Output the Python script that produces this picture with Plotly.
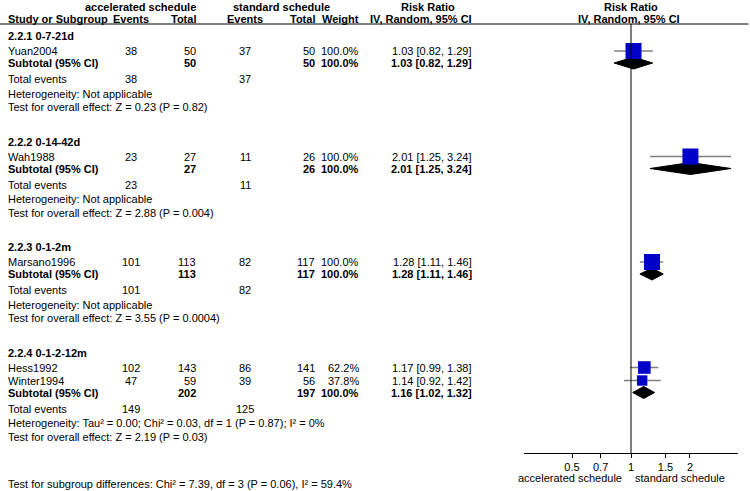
import plotly.graph_objects as go

# ------------------------------------------------------------------ #
# Data
groups = ["2.2.1 0-7-21d", "2.2.2 0-14-42d", "2.2.3 0-1-2m", "2.2.4 0-1-2-12m"]

studies = ["Yuan2004", "Wah1988", "Marsano1996", "Hess1992", "Winter1994"]
study_group = [0, 1, 2, 3, 3]
acc_events = [38, 23, 101, 102, 47]
acc_total = [50, 27, 113, 143, 59]
std_events = [37, 11, 82, 86, 39]
std_total = [50, 26, 117, 141, 56]
weights = [100.0, 100.0, 100.0, 62.2, 37.8]
rr = [1.03, 2.01, 1.28, 1.17, 1.14]
rr_lo = [0.82, 1.25, 1.11, 0.99, 0.92]
rr_hi = [1.29, 3.24, 1.46, 1.38, 1.42]

sub_acc_total = [50, 27, 113, 202]
sub_std_total = [50, 26, 117, 197]
sub_acc_events = [38, 23, 101, 149]
sub_std_events = [37, 11, 82, 125]
sub_rr = [1.03, 2.01, 1.28, 1.16]
sub_lo = [0.82, 1.25, 1.11, 1.02]
sub_hi = [1.29, 3.24, 1.46, 1.32]

heterogeneity = ["Heterogeneity: Not applicable",
                 "Heterogeneity: Not applicable",
                 "Heterogeneity: Not applicable",
                 "Heterogeneity: Tau² = 0.00; Chi² = 0.03, df = 1 (P = 0.87); I² = 0%"]
overall_effect = ["Test for overall effect: Z = 0.23 (P = 0.82)",
                  "Test for overall effect: Z = 2.88 (P = 0.004)",
                  "Test for overall effect: Z = 3.55 (P = 0.0004)",
                  "Test for overall effect: Z = 2.19 (P = 0.03)"]
subgroup_diff = "Test for subgroup differences: Chi² = 7.39, df = 3 (P = 0.06), I² = 59.4%"

tick_vals = [0.5, 0.7, 1, 1.5, 2]
tick_text = ["0.5", "0.7", "1", "1.5", "2"]
favours = ["accelerated schedule", "standard schedule"]

# ------------------------------------------------------------------ #
# Layout (pixels from the top-left of the page)
W, H = 750, 491
FONT = "Liberation Sans, Arial, sans-serif"
FS = 11
AXIS_Y = 453
HEAD_LINE_Y = 24

# column anchors (x)
X_LABEL = 6
X_EV1 = 131      # centre
X_TOT1 = 198     # right
X_EV2 = 245      # centre
X_TOT2 = 317     # right
X_WT = 361       # right
X_CI = 474       # right

# row steps
STEP = {"after_header": 15, "study": 13, "subtotal": 12, "total": 16,
        "het": 14.5, "test": 13.5, "gap": 34.5}

fig = go.Figure()
ann = []


def txt(x, y, s, anchor="left", bold=False):
    ann.append(dict(x=x / W, y=y, xref="paper", yref="y",
                    text=f"<b>{s}</b>" if bold else str(s),
                    showarrow=False, xanchor=anchor, yanchor="middle",
                    font=dict(family=FONT, size=FS, color="black")))


def diamond(y, lo, mid, hi, half=6):
    fig.add_trace(go.Scatter(x=[lo, mid, hi, mid, lo], y=[y, y - half, y, y + half, y],
                             mode="lines", fill="toself", fillcolor="black",
                             line=dict(color="black", width=1), hoverinfo="skip"))


# header
txt(140, 7, "accelerated schedule", "center", True)
txt(281, 7, "standard schedule", "center", True)
txt(428, 7, "Risk Ratio", "center", True)
txt(631, 7, "Risk Ratio", "center", True)
txt(X_LABEL, 19, "Study or Subgroup", "left", True)
txt(X_EV1, 19, "Events", "center", True)
txt(X_TOT1, 19, "Total", "right", True)
txt(X_EV2, 19, "Events", "center", True)
txt(X_TOT2, 19, "Total", "right", True)
txt(X_WT, 19, "Weight", "right", True)
txt(X_CI, 19, "IV, Random, 95% CI", "right", True)
txt(629, 19, "IV, Random, 95% CI", "center", True)

sq_x, sq_y, sq_s = [], [], []
y = 36
for g, gname in enumerate(groups):
    txt(X_LABEL, y, gname, "left", True)
    y += STEP["after_header"]
    members = [i for i, sg in enumerate(study_group) if sg == g]
    for k, i in enumerate(members):
        if k > 0:
            y += STEP["study"]
        txt(X_LABEL, y, studies[i])
        txt(X_EV1, y, acc_events[i], "center")
        txt(X_TOT1, y, acc_total[i], "right")
        txt(X_EV2, y, std_events[i], "center")
        txt(X_TOT2, y, std_total[i], "right")
        txt(X_WT, y, f"{weights[i]:.1f}%", "right")
        txt(X_CI, y, f"{rr[i]:.2f} [{rr_lo[i]:.2f}, {rr_hi[i]:.2f}]", "right")
        fig.add_trace(go.Scatter(x=[rr_lo[i], rr_hi[i]], y=[y, y], mode="lines",
                                 line=dict(color="#7f7f7f", width=1.5), hoverinfo="skip"))
        sq_x.append(rr[i])
        sq_y.append(y)
        sq_s.append(7 + 9 * weights[i] / 100)
    y += STEP["subtotal"]
    txt(X_LABEL, y, "Subtotal (95% CI)", "left", True)
    txt(X_TOT1, y, sub_acc_total[g], "right", True)
    txt(X_TOT2, y, sub_std_total[g], "right", True)
    txt(X_WT, y, "100.0%", "right", True)
    txt(X_CI, y, f"{sub_rr[g]:.2f} [{sub_lo[g]:.2f}, {sub_hi[g]:.2f}]", "right", True)
    diamond(y, sub_lo[g], sub_rr[g], sub_hi[g])
    y += STEP["total"]
    txt(X_LABEL, y, "Total events")
    txt(X_EV1, y, sub_acc_events[g], "center")
    txt(X_EV2, y, sub_std_events[g], "center")
    y += STEP["het"]
    txt(X_LABEL, y, heterogeneity[g])
    y += STEP["test"]
    txt(X_LABEL, y, overall_effect[g])
    y += STEP["gap"]

fig.add_trace(go.Scatter(x=sq_x, y=sq_y, mode="markers", hoverinfo="skip",
                         marker=dict(symbol="square", size=sq_s, color="#0000c8",
                                     opacity=1, line=dict(width=0))))

# line of no effect
fig.add_trace(go.Scatter(x=[1, 1], y=[HEAD_LINE_Y, AXIS_Y], mode="lines",
                         line=dict(color="black", width=1), hoverinfo="skip"))

# favours labels and footer
txt(570, 478, favours[0], "center")
txt(680, 478, favours[1], "center")
txt(X_LABEL, 484, subgroup_diff)

fig.update_layout(
    width=W, height=H, margin=dict(l=0, r=0, t=0, b=0),
    paper_bgcolor="white", plot_bgcolor="white", showlegend=False,
    annotations=ann,
    shapes=[dict(type="line", xref="paper", yref="y", x0=0, x1=0.998,
                 y0=HEAD_LINE_Y, y1=HEAD_LINE_Y, line=dict(color="black", width=1))],
    xaxis=dict(type="log", range=[-0.546, 0.546],
               domain=[524 / W, 738 / W],
               anchor="free", position=1 - AXIS_Y / H,
               tickvals=tick_vals, ticktext=tick_text, ticks="outside", ticklen=4,
               tickcolor="black", showline=True, linecolor="black", linewidth=1,
               showgrid=False, zeroline=False,
               tickfont=dict(family=FONT, size=FS, color="black")),
    yaxis=dict(range=[H, 0], domain=[0, 1], visible=False, showgrid=False,
               zeroline=False),
)

# the page body has a default 8px margin; drop it so the figure sits at the corner
fig.write_html("out.html", config={"displayModeBar": False},
               post_script="document.body.style.margin='0';document.body.style.overflow='hidden';")
